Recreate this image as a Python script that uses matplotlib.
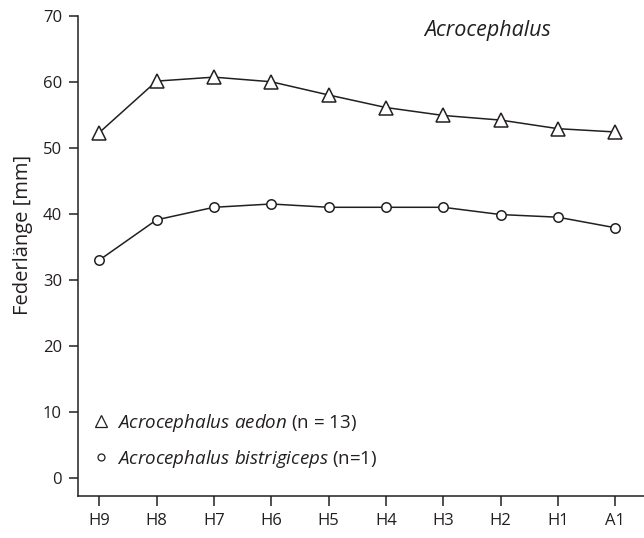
import matplotlib
matplotlib.use("Agg")
import matplotlib.pyplot as plt
from matplotlib.lines import Line2D

# Data (feather length in mm)
feathers = ["H9", "H8", "H7", "H6", "H5", "H4", "H3", "H2", "H1", "A1"]
aedon = [52.3, 60.1, 60.7, 60.0, 58.0, 56.1, 54.9, 54.2, 52.9, 52.4]
bistrigiceps = [33.0, 39.1, 41.0, 41.5, 41.0, 41.0, 41.0, 39.9, 39.5, 37.9]
yticks = [0, 10, 20, 30, 40, 50, 60, 70]

ink = "#231f20"
plt.rcParams["font.family"] = ["Open Sans", "DejaVu Sans"]
plt.rcParams["mathtext.fontset"] = "custom"
plt.rcParams["mathtext.it"] = "Open Sans:italic"
plt.rcParams["mathtext.rm"] = "Open Sans"

fig = plt.figure(figsize=(6.44, 5.38), dpi=100)
ax = fig.add_axes([78 / 644, 1 - 496 / 538, 1 - 78 / 644, (496 - 15.7) / 538])

x = list(range(len(feathers)))
ax.plot(x, aedon, color=ink, lw=1.1, marker="^", ms=9.5, mfc="white", mec=ink, mew=1.1)
ax.plot(x, bistrigiceps, color=ink, lw=1.1, marker="o", ms=6.8, mfc="white", mec=ink, mew=1.1)

ax.set_xlim(-0.37, 9.5)
ax.set_ylim(-2.7, 70)
ax.set_xticks(x)
ax.set_xticklabels(feathers)
ax.set_yticks(yticks)

for s in ["top", "right"]:
    ax.spines[s].set_visible(False)
for s in ["left", "bottom"]:
    ax.spines[s].set_color(ink)
    ax.spines[s].set_linewidth(1.1)
ax.tick_params(axis="y", length=6.5, width=1.1, color=ink, labelcolor=ink, labelsize=12, pad=5)
ax.tick_params(axis="x", length=7.5, width=1.1, color=ink, labelcolor=ink, labelsize=12, pad=5)

ax.set_ylabel("Federlänge [mm]", fontsize=14.5, color=ink)
ax.yaxis.set_label_coords(-0.08, 0.543)

ax.text(0.723, 0.97, "Acrocephalus", transform=ax.transAxes, fontsize=15.5,
        style="italic", color=ink, ha="center", va="center")

handles = [
    Line2D([], [], ls="none", marker="^", ms=8.5, mfc="white", mec=ink, mew=0.9),
    Line2D([], [], ls="none", marker="o", ms=5, mfc="white", mec=ink, mew=0.9),
]
labels = [r"$\it{Acrocephalus\ aedon}$ (n = 13)",
          r"$\it{Acrocephalus\ bistrigiceps}$ (n=1)"]
ax.legend(handles, labels, loc="lower left", bbox_to_anchor=(0.0, 0.027),
          frameon=False, fontsize=13.5, handlelength=1.1, handletextpad=0.3,
          labelspacing=0.75, borderaxespad=0.3, labelcolor=ink)

fig.savefig("out.png", dpi=100)
